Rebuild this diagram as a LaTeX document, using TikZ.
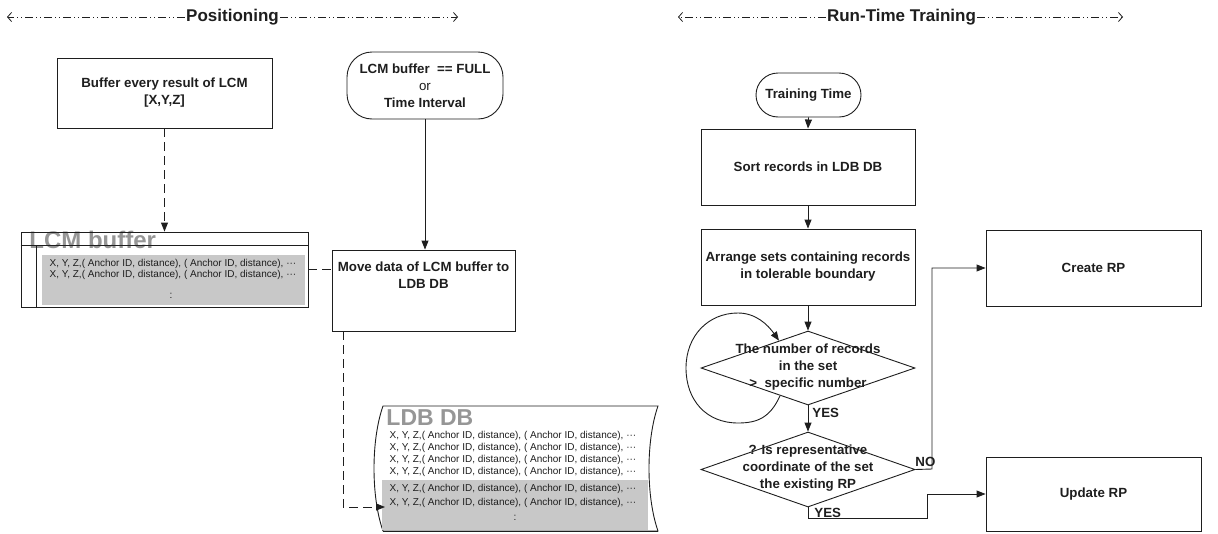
\documentclass[tikz,border=0pt]{standalone}
\usepackage{fontspec}
\setmainfont{Liberation Sans}
\usetikzlibrary{arrows.meta,shapes.geometric,calc}
\definecolor{lgray}{RGB}{200,200,200}
\definecolor{tgray}{RGB}{150,150,150}
\definecolor{ink}{RGB}{30,30,30}
\begin{document}
\begin{tikzpicture}[x=1pt,y=-1pt, color=ink, line width=0.9pt,
  box/.style={draw=ink, line width=0.9pt, font=\fontsize{13.3}{17}\selectfont\bfseries, align=center, inner sep=0pt, fill=white},
  term/.style={box, rounded corners=#1},
  dia/.style={draw=ink, line width=0.9pt, diamond, inner sep=0pt, fill=white},
  dtext/.style={font=\fontsize{13.3}{17}\selectfont\bfseries, align=center, inner sep=0pt},
  lbl/.style={font=\fontsize{13.3}{16}\selectfont\bfseries, inner sep=0pt},
  small/.style={font=\fontsize{10}{12}\selectfont, inner sep=0pt, text=ink},
  big/.style={font=\fontsize{24}{26}\selectfont\bfseries, text=tgray, inner sep=0pt},
  hdrtext/.style={font=\fontsize{17}{20}\selectfont\bfseries, inner sep=1pt},
  hdrline/.style={line width=0.8pt, draw=ink, dash pattern=on 8pt off 3pt on 1pt off 3pt on 1pt off 3pt, -{Straight Barb[length=4pt,width=9pt]}},
  arr/.style={-{Triangle[length=9pt,width=7pt]}},
  dsh/.style={dash pattern=on 9pt off 5pt}
]
\useasboundingbox (0,0) rectangle (1218,533);

% ---------- headers ----------
\node[hdrtext] (pos) at (232.5,17) {Positioning};
\coordinate (posL) at (7,17);
\coordinate (posR) at (458,17);
\draw[hdrline] (pos.west) -- (posL);
\draw[hdrline] (pos.east) -- (posR);

\node[hdrtext] (rtt) at (901.5,17) {Run-Time Training};
\coordinate (rttL) at (678,17);
\coordinate (rttR) at (1123,17);
\draw[hdrline] (rtt.west) -- (rttL);
\draw[hdrline] (rtt.east) -- (rttR);

% ---------- Positioning ----------
\node[box, minimum width=215pt, minimum height=70pt] (b1) at (164.5,93)
  {Buffer every result of LCM\\{}[X,Y,Z]};

\node[term=25pt, minimum width=156pt, minimum height=67pt] (t1) at (425,85.5)
  {LCM buffer \ == FULL\\{\mdseries or}\\Time Interval};

% LCM buffer table
\fill[lgray] (42,255) rectangle (305,305);
\node[small] (l1) at (173,264) {X, Y, Z,( Anchor ID, distance), ( Anchor ID, distance), ···};
\node[small] (l2) at (173,275) {X, Y, Z,( Anchor ID, distance), ( Anchor ID, distance), ···};
\node[small] (l3) at (171,296) {:};
\node[big, anchor=west] (lcmt) at (29,240) {LCM buffer};
\node[draw=ink, line width=0.9pt, minimum width=287pt, minimum height=75pt, inner sep=0pt] (lcm) at (164.5,269.5) {};
\draw (lcm.north west |- 0,245) -- (lcm.north east |- 0,245);
\draw (36,245) -- (lcm.south west -| 36,0);

\node[box, minimum width=183pt, minimum height=81pt] (move) at (423.5,290.5)
  {Move data of LCM buffer to\\LDB DB\\[14pt]};

% LDB DB stored data shape
\draw[fill=white] (383,406) -- (658,406) .. controls (646,440) and (646,497) .. (658,531)
  -- (383,531) .. controls (371,497) and (371,440) .. (383,406) -- cycle;
\fill[lgray] (382,480) rectangle (648,530);
\draw (383,531) -- (658,531);
\node[big, anchor=west, font=\fontsize{23}{25}\selectfont\bfseries] (ldbt) at (386,418) {LDB DB};
\node[small] (d1t) at (513,436) {X, Y, Z,( Anchor ID, distance), ( Anchor ID, distance), ···};
\node[small] (d2t) at (513,448) {X, Y, Z,( Anchor ID, distance), ( Anchor ID, distance), ···};
\node[small] (d3t) at (513,460) {X, Y, Z,( Anchor ID, distance), ( Anchor ID, distance), ···};
\node[small] (d4t) at (513,472) {X, Y, Z,( Anchor ID, distance), ( Anchor ID, distance), ···};
\node[small] (d5t) at (513,489) {X, Y, Z,( Anchor ID, distance), ( Anchor ID, distance), ···};
\node[small] (d6t) at (513,503) {X, Y, Z,( Anchor ID, distance), ( Anchor ID, distance), ···};
\node[small] (d7t) at (515,518) {:};
\coordinate (ldbin) at (385,507);

% connectors (positioning)
\draw[dsh, arr] (b1.south) -- (lcm.north);
\draw[arr] (t1.south) -- (t1.south |- move.north);
\draw[dsh] (lcm.east) -- (lcm.east -| move.west);
\coordinate (mvout) at (343,331);
\draw[dsh, arr] (mvout) |- (ldbin);

% ---------- Run-Time Training ----------
\node[term=22pt, minimum width=105pt, minimum height=44pt] (tt) at (808.5,95) {Training Time};
\node[box, minimum width=214pt, minimum height=76pt] (sort) at (808,167) {Sort records in LDB DB};
\node[box, minimum width=214pt, minimum height=76pt] (arr) at (808,267)
  {Arrange sets containing records\\in tolerable boundary};
\node[dia, minimum width=214pt, minimum height=74pt] (dd1) at (808,368) {};
\node[dtext] (dd1t) at (808,367.5) {The number of records\\in the set\\>\ \ specific number};
\node[dia, minimum width=214pt, minimum height=75pt] (dd2) at (808,469.5) {};
\node[dtext] (dd2t) at (808,468.5) {? Is representative\\coordinate of the set\\the existing RP};
\node[box, minimum width=215pt, minimum height=76pt] (create) at (1093.5,268) {Create RP};
\node[box, minimum width=215pt, minimum height=74pt] (update) at (1093.5,494) {Update RP};

\draw[arr] (tt.south) -- (sort.north);
\draw[arr] (sort.south) -- (arr.north);
\draw[arr] (arr.south) -- (dd1.north);
\draw[arr] (dd1.south) -- (dd2.north);

% loop
\coordinate (lpS) at ($(dd1.west)!0.74!(dd1.south)$);
\coordinate (lpE) at ($(dd1.west)!0.73!(dd1.north)$);
\draw[arr] (lpS) .. controls (770,418) and (757,423) .. (738,423)
  .. controls (706,423) and (686,400) .. (686,368)
  .. controls (686,336) and (708,313) .. (738,313)
  .. controls (756,313) and (768,325) .. (lpE);

% NO / YES routes
\coordinate (noc) at (932,469);
\draw[arr] (dd2.east) -- (noc) |- (create.west);
\coordinate (yesa) at (808,518);
\coordinate (yesb) at (927,518);
\draw[arr] (dd2.south) -- (yesa) -- (yesb) |- (update.west);

\node[lbl, anchor=west] (yes1) at (812,413) {YES};
\node[lbl, anchor=west] (yes2) at (814,513) {YES};
\node[lbl, anchor=west] (no) at (915,462) {NO};
\end{tikzpicture}
\end{document}
